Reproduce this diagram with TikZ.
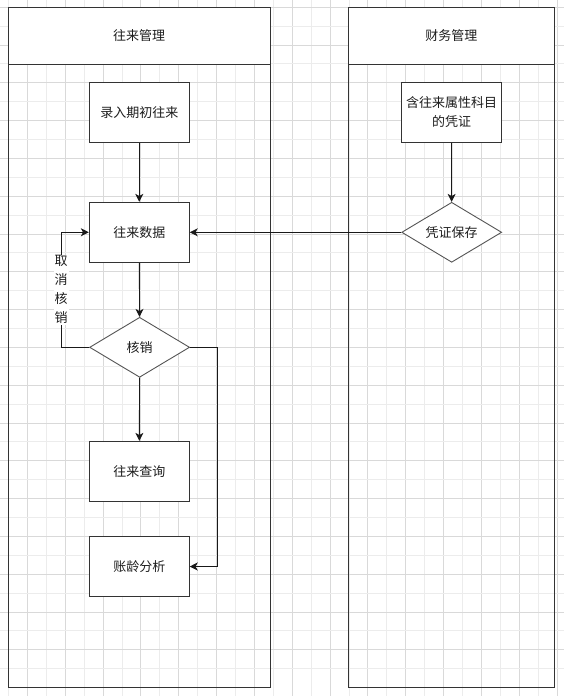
\documentclass[tikz,border=0pt]{standalone}
\usepackage{fontspec}
\setmainfont{Noto Sans CJK SC}
\usetikzlibrary{arrows.meta,shapes.geometric}
\definecolor{gridA}{HTML}{D9D9D9}
\definecolor{gridB}{HTML}{ECECEC}
\definecolor{edge}{HTML}{333333}
\definecolor{dedge}{HTML}{555555}
\definecolor{txt}{HTML}{1E1E1E}
\begin{document}
\begin{tikzpicture}[x=1pt,y=-1pt,
  every node/.style={font=\fontsize{13pt}{19pt}\selectfont, text=txt},
  stepbox/.style={draw=edge, fill=white, line width=0.9pt, minimum width=100pt, minimum height=60pt, inner sep=0pt, align=center},
  decbox/.style={draw=dedge, fill=white, line width=0.9pt, diamond, aspect=1.67, minimum width=100pt, minimum height=60pt, inner sep=0pt},
  lanehead/.style={draw=edge, fill=white, line width=1pt, minimum width=261.7pt, minimum height=56.7pt, inner sep=0pt},
  lanebody/.style={draw=edge, line width=1pt},
  arr/.style={draw=black!90, line width=0.9pt, -{Stealth[length=8pt,width=8pt,inset=2.2pt]}},
  vlabel/.style={fill=white, inner sep=1pt, align=center}]
\useasboundingbox (0,0) rectangle (564,696);
\fill[white] (0,0) rectangle (564,696);
% grid
\foreach \k in {0,2,...,28} {\draw[gridB, line width=0.8pt] ({8.4+18.92*\k},0) -- ({8.4+18.92*\k},696);}
\foreach \k in {1,3,...,29} {\draw[gridA, line width=0.8pt] ({8.4+18.92*\k},0) -- ({8.4+18.92*\k},696);}
\foreach \k in {1,3,...,35} {\draw[gridB, line width=0.8pt] (0,{7.1+18.9*\k}) -- (564,{7.1+18.9*\k});}
\foreach \k in {0,2,...,34} {\draw[gridA, line width=0.8pt] (0,{7.1+18.9*\k}) -- (564,{7.1+18.9*\k});}
% lanes
\draw[lanebody] (8.3,64) rectangle (270,687.3);
\draw[lanebody] (348.2,64) rectangle (554.3,687.3);
\node[lanehead] (h1) at (139.15,35.65) {往来管理};
\node[lanehead, minimum width=206.1pt] (h2) at (451.25,35.65) {财务管理};
% nodes
\node[stepbox] (b1) at (139.3,112.3) {录入期初往来};
\node[stepbox] (b2) at (139.3,232.3) {往来数据};
\node[decbox] (d1) at (139.6,347.3) {核销};
\node[stepbox] (b3) at (139.3,471.3) {往来查询};
\node[stepbox] (b4) at (139.3,566.5) {账龄分析};
\node[stepbox] (r1) at (451.5,112.3) {含往来属性科目\\的凭证};
\node[decbox] (d2) at (451.7,232.3) {凭证保存};
% connectors
\draw[arr] (b1) -- (b2);
\draw[arr] (b2) -- (d1);
\draw[arr] (d1) -- (b3);
\draw[arr] (d1.east) -- ++(27.1,0) |- (b4.east);
\draw[arr] (d1.west) -- ++(-28,0) |- (b2.west) node[vlabel, pos=0.25] {取\\消\\核\\销};
\draw[arr] (r1) -- (d2);
\draw[arr] (d2.west) -- (b2.east);
\end{tikzpicture}
\end{document}
